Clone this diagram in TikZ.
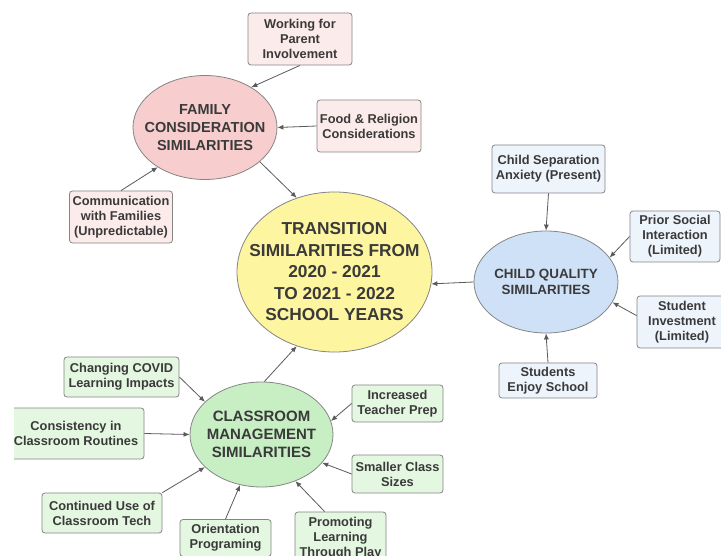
\documentclass[tikz,border=0pt]{standalone}
\usepackage{fontspec}
\setmainfont{Liberation Sans}
\usetikzlibrary{arrows.meta,shapes.geometric}

\definecolor{ink}{HTML}{3A3A3A}
\definecolor{edge}{HTML}{858585}
\definecolor{wire}{HTML}{5A5A5A}
\definecolor{pinkhub}{HTML}{F7CDCD}
\definecolor{pinkcard}{HTML}{FCEBEB}
\definecolor{yellowhub}{HTML}{FDF5A0}
\definecolor{bluehub}{HTML}{CFE1F7}
\definecolor{bluecard}{HTML}{EEF4FC}
\definecolor{greenhub}{HTML}{C8EFC4}
\definecolor{greencard}{HTML}{E4F7E1}

\tikzset{
  card/.style={draw=edge, line width=0.8pt, rounded corners=3pt, align=center,
    inner sep=0pt, text=ink, font=\fontsize{12.8}{15}\selectfont\bfseries},
  pinkbox/.style={card, fill=pinkcard},
  bluebox/.style={card, fill=bluecard},
  greenbox/.style={card, fill=greencard},
  hub/.style={ellipse, draw=edge, line width=0.8pt, inner sep=0pt},
  hubtext/.style={align=center, inner sep=0pt, text=ink},
  link/.style={draw=wire, line width=0.8pt, -{Latex[length=6pt,width=5pt]}},
}

\begin{document}
\begin{tikzpicture}[x=1pt,y=-1pt]
\useasboundingbox (0,0) rectangle (721,556);
\fill[white] (0,0) rectangle (721,556);
\clip (14,0) rectangle (721,556);

% central hub
\node[hub, fill=yellowhub, minimum width=195pt, minimum height=160pt] (tr) at (334.5,272) {};
\node[hubtext, font=\fontsize{17.3}{21.5}\selectfont\bfseries] (trtxt) at (tr)
  {TRANSITION\\SIMILARITIES FROM\\2020 - 2021\\TO 2021 - 2022\\SCHOOL YEARS};

% family cluster
\node[hub, fill=pinkhub, minimum width=144pt, minimum height=104pt] (fam) at (205,127.5) {};
\node[hubtext, font=\fontsize{14.5}{18.3}\selectfont\bfseries] (famtxt) at (fam)
  {FAMILY\\CONSIDERATION\\SIMILARITIES};
\node[pinkbox, minimum width=104pt, minimum height=52pt] (wp) at (300,39)
  {Working for\\Parent\\Involvement};
\node[pinkbox, minimum width=104pt, minimum height=52pt] (food) at (369,126)
  {Food \& Religion\\Considerations};
\node[pinkbox, minimum width=103pt, minimum height=52pt] (comm) at (121,217)
  {Communication\\with Families\\(Unpredictable)};

% child quality cluster
\node[hub, fill=bluehub, minimum width=144pt, minimum height=102pt] (cq) at (546,282) {};
\node[hubtext, font=\fontsize{13.4}{16}\selectfont\bfseries] (cqtxt) at (cq)
  {CHILD QUALITY\\SIMILARITIES};
\node[bluebox, minimum width=113pt, minimum height=48pt] (sep) at (548.5,169)
  {Child Separation\\Anxiety (Present)};
\node[bluebox, minimum width=90pt, minimum height=51pt] (prior) at (675,236.5)
  {Prior Social\\Interaction\\(Limited)};
\node[bluebox, minimum width=90pt, minimum height=52pt] (inv) at (682,322)
  {Student\\Investment\\(Limited)};
\node[bluebox, minimum width=98pt, minimum height=35pt] (enj) at (548,380.5)
  {Students\\Enjoy School};

% classroom cluster
\node[hub, fill=greenhub, minimum width=143pt, minimum height=105pt] (cl) at (261.5,434.5) {};
\node[hubtext, font=\fontsize{15}{18.3}\selectfont\bfseries] (cltxt) at (cl)
  {CLASSROOM\\MANAGEMENT\\SIMILARITIES};
\node[greenbox, minimum width=115pt, minimum height=40pt] (chg) at (121.5,377)
  {Changing COVID\\Learning Impacts};
\node[greenbox, minimum width=136pt, minimum height=51pt] (cons) at (76,433.5)
  {Consistency in\\Classroom Routines};
\node[greenbox, minimum width=120pt, minimum height=40pt] (cont) at (102,513)
  {Continued Use of\\Classroom Tech};
\node[greenbox, minimum width=91pt, minimum height=37pt] (ori) at (225.5,538)
  {Orientation\\Programing};
\node[greenbox, minimum width=91pt, minimum height=52pt] (prom) at (340.5,538)
  {Promoting\\Learning\\Through Play};
\node[greenbox, minimum width=91pt, minimum height=37pt] (inc) at (397.5,403.5)
  {Increased\\Teacher Prep};
\node[greenbox, minimum width=91pt, minimum height=38pt] (sm) at (397.5,474)
  {Smaller Class\\Sizes};

% connectors
\draw[link] (wp.south) -- (fam.41);
\draw[link] (food.west) -- (fam.east);
\draw[link] (comm.north) -- (fam.220);
\draw[link] (fam.-32) -- (tr.117);

\draw[link] (sep.south) -- (cq.north);
\draw[link] (prior.west) -- (cq.21);
\draw[link] (inv.172) -- (cq.-17);
\draw[link] (enj.north) -- (cq.south);
\draw[link] (cq.west) -- (tr.-7);

\draw[link] (cl.87) -- (tr.243);
\draw[link] (chg.east) -- (cl.150);
\draw[link] (cons.east) -- (cl.west);
\draw[link] (cont.north east) -- (cl.210);
\draw[link] (ori.north) -- (cl.247);
\draw[link] (prom.121) -- (cl.-54);
\draw[link] (sm.west) -- (cl.-25);
\draw[link] (inc.west) -- (cl.11);
\end{tikzpicture}
\end{document}
